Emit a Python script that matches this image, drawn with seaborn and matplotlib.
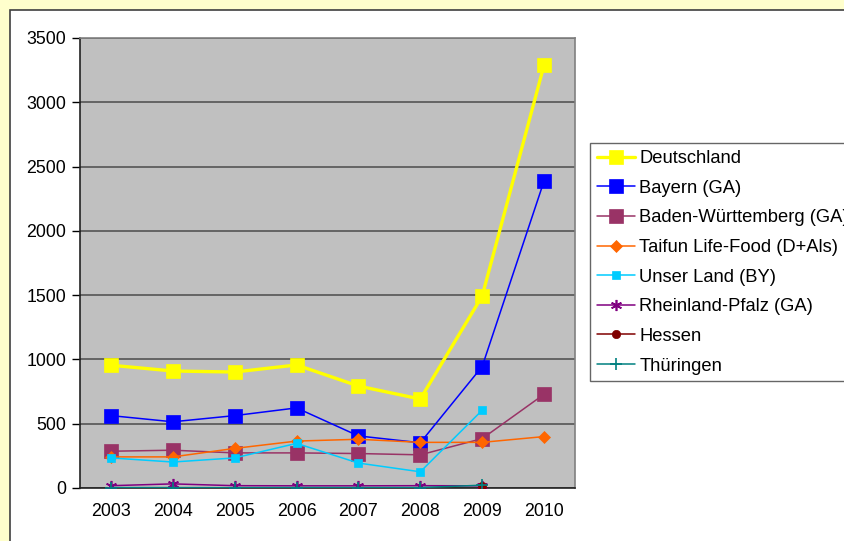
import numpy as np
import pandas as pd
import matplotlib
matplotlib.use("Agg")
import matplotlib.pyplot as plt
from matplotlib.patches import Rectangle
import seaborn as sns

years = [2003, 2004, 2005, 2006, 2007, 2008, 2009, 2010]

deutschland = [955, 910, 902, 957, 793, 692, 1493, 3290]
bayern = [563, 515, 563, 623, 405, 352, 945, 2388]
baden_wuerttemberg = [286, 294, 273, 273, 268, 258, 384, 729]
taifun = [242, 242, 308, 365, 379, 355, 355, 400]
unser_land = [234, 202, 234, 347, 194, 126, 605]
rheinland_pfalz = [18, 32, 18, 17, 17, 18, 17]
hessen = [12]
thueringen = [3, 3, 2, 3, 3, 3, 22]

series = [
    ("Deutschland", years, deutschland, "#FFFF00", "s", 9.5, 2.4),
    ("Bayern (GA)", years, bayern, "#0000FF", "s", 9.5, 1.1),
    ("Baden-Württemberg (GA)", years, baden_wuerttemberg, "#993366", "s", 9.5, 1.1),
    ("Taifun Life-Food (D+Als)", years, taifun, "#FF6600", "D", 6.0, 1.1),
    ("Unser Land (BY)", years[:7], unser_land, "#00CCFF", "s", 6.0, 1.1),
    ("Rheinland-Pfalz (GA)", years[:7], rheinland_pfalz, "#800080", (6, 2, 0), 8.0, 1.1),
    ("Hessen", years[6:7], hessen, "#800000", "o", 6.0, 1.1),
    ("Thüringen", years[:7], thueringen, "#008080", "+", 8.0, 1.1),
]

sns.set_theme(style="white")
plt.rcParams["font.family"] = ["Liberation Sans", "DejaVu Sans"]
plt.rcParams["text.color"] = "black"
plt.rcParams["xtick.color"] = "black"
plt.rcParams["ytick.color"] = "black"

fig = plt.figure(figsize=(8.45, 5.41), dpi=100)
fig.patch.set_facecolor("#FFFFCC")
fig.patches.append(Rectangle((10 / 845, -0.05), 1.0, 1 - 10 / 541 + 0.05,
                             transform=fig.transFigure, facecolor="white",
                             edgecolor="#404040", linewidth=1.2, zorder=-10))

ax = fig.add_axes([80 / 845, 1 - 488 / 541, 495 / 845, 450 / 541])
ax.set_facecolor("#C0C0C0")

for name, xs, ys, color, marker, ms, lw in series:
    df = pd.DataFrame({"year": xs, "value": ys})
    thin = marker == "+" or isinstance(marker, tuple)
    sns.lineplot(data=df, x="year", y="value", ax=ax, color=color, marker=marker,
                 markersize=ms, linewidth=lw, markeredgecolor=color,
                 markeredgewidth=1.2 if thin else 0.5,
                 label=name, zorder=3)

ax.set_xlim(2002.5, 2010.5)
ax.set_ylim(0, 3500)
ax.set_yticks(np.arange(0, 3501, 500))
ax.set_xticks(np.arange(2002.5, 2010.6, 1.0))
ax.set_xticklabels([])
ax.set_xticks(years, minor=True)
ax.set_xticklabels([str(y) for y in years], minor=True)
ax.tick_params(axis="x", which="major", direction="out", length=6, color="black", width=1)
ax.tick_params(axis="x", which="minor", length=0, labelsize=12.8, pad=11)
ax.tick_params(axis="y", direction="out", length=6, color="black", width=1,
               labelsize=12.8, pad=4, left=True)
ax.grid(axis="y", color="#555555", linewidth=1.2)
ax.set_axisbelow(True)
ax.set_xlabel("")
ax.set_ylabel("")
for side in ("left", "bottom"):
    ax.spines[side].set_color("#222222")
    ax.spines[side].set_linewidth(1.2)
for side in ("top", "right"):
    ax.spines[side].set_color("#808080")
    ax.spines[side].set_linewidth(1.2)

handles, labels = ax.get_legend_handles_labels()
ax.legend_.remove()
leg = fig.legend(handles, labels, loc="upper left",
                 bbox_to_anchor=(590 / 845, 1 - 143 / 541),
                 frameon=True, fancybox=False, fontsize=13.2,
                 handlelength=2.1, handletextpad=0.2, labelspacing=0.69,
                 borderpad=0.38, borderaxespad=0)
leg.get_frame().set_edgecolor("#404040")
leg.get_frame().set_linewidth(1.0)
for t in leg.get_texts():
    t.set_color("black")

fig.savefig("out.png", dpi=100, facecolor=fig.get_facecolor())
